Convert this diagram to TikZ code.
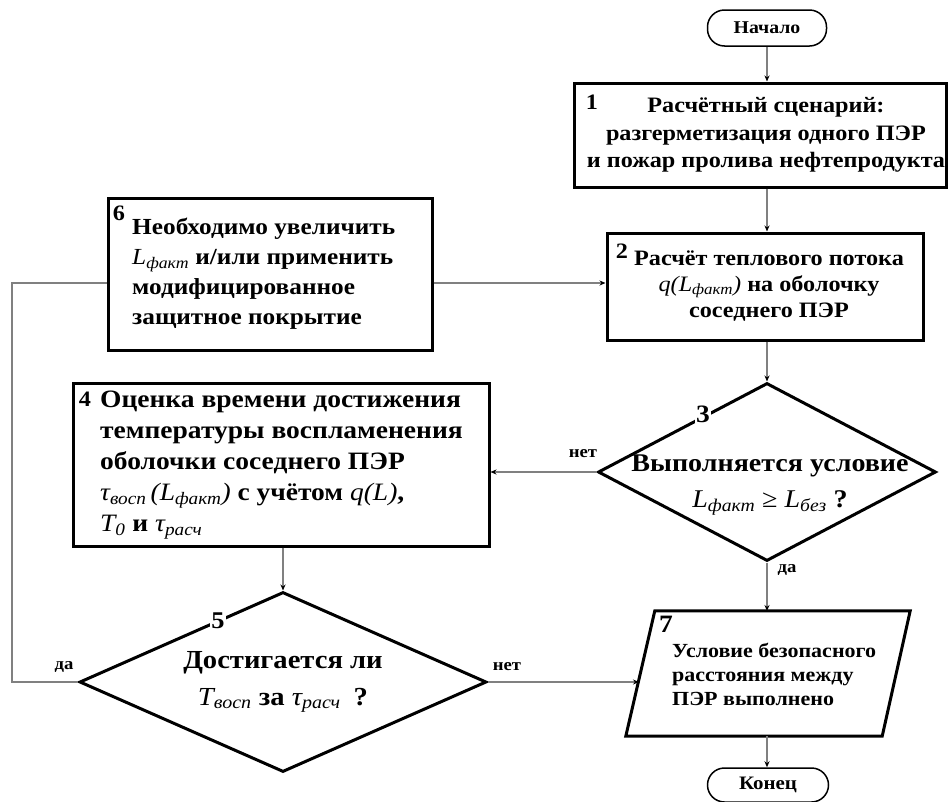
\documentclass[tikz,border=0pt]{standalone}
\usepackage{fontspec}
\setmainfont{Liberation Serif}[FakeStretch=1.1]
\usetikzlibrary{arrows.meta,shapes.geometric,calc}
\newcommand\iv[1]{{\mdseries\itshape #1}}
\newcommand\sbs[1]{\textsubscript{\mdseries\itshape #1}}
\begin{document}
\begin{tikzpicture}[x=1pt,y=-1pt,
  boxst/.style={draw=black,line width=3pt,rectangle,inner sep=0pt},
  termst/.style={draw=black,line width=1.5pt,rectangle,rounded corners=17pt,inner sep=0pt},
  diast/.style={draw=black,line width=3pt,diamond,inner sep=0pt},
  conn/.style={draw=black!50,line width=1.5pt},
  arr/.style={conn,-{Stealth[length=6pt,width=5pt,color=black]}},
  numst/.style={font=\fontsize{22}{22}\selectfont\bfseries,inner sep=1pt},
  lblst/.style={font=\fontsize{17}{17}\selectfont\bfseries,inner sep=0pt},
  txt/.style={inner sep=0pt,font=\bfseries}
]
\useasboundingbox (0,0) rectangle (948,801);
% shapes
\node[termst,minimum width=119pt,minimum height=36pt] (start) at (767,28) {};
\node[boxst,minimum width=372pt,minimum height=104pt] (b1) at (760,135) {};
\node[boxst,minimum width=316pt,minimum height=107pt] (b2) at (765,286.5) {};
\node[boxst,minimum width=324pt,minimum height=152pt] (b6) at (270,274) {};
\node[boxst,minimum width=416pt,minimum height=163pt] (b4) at (281,464.5) {};
\node[diast,minimum width=338pt,minimum height=178pt] (d3) at (767,472) {};
\node[diast,minimum width=407pt,minimum height=180pt] (d5) at (283,682) {};
\node[minimum width=284pt,minimum height=125pt,inner sep=0pt] (b7) at (768,673.5) {};
\draw[line width=3pt,line join=miter] ($(b7.north west)+(29,0)$) -- (b7.north east) -- ($(b7.south east)+(-28,0)$) -- (b7.south west) -- cycle;
\node[termst,minimum width=121pt,minimum height=34pt] (end) at (768,785) {};
% texts
\node[txt,font=\fontsize{18}{18}\selectfont\bfseries] (startt) at (start) {Начало};
\node[txt,font=\fontsize{19}{19}\selectfont\bfseries] (endt) at (end) {Конец};
\node[txt,align=center,font=\fontsize{22}{27.5}\selectfont\bfseries] (b1t) at (766,135) {Расчётный сценарий:\\разгерметизация одного ПЭР\\и пожар пролива нефтепродукта};
\node[txt,align=center,font=\fontsize{22}{26}\selectfont\bfseries] (b2t) at (769,286) {Расчёт теплового потока\\\iv{q(L}\sbs{факт}\iv{)} на оболочку\\соседнего ПЭР};
\node[txt,anchor=west,align=left,font=\fontsize{23}{30}\selectfont\bfseries] (b6t) at (132,274) {Необходимо увеличить\\\iv{L}\sbs{факт} и/или применить\\модифицированное\\защитное покрытие};
\node[txt,anchor=west,align=left,font=\fontsize{25}{31}\selectfont\bfseries] (b4t) at (100,465) {Оценка времени достижения\\температуры воспламенения\\оболочки соседнего ПЭР\\\iv{τ}\sbs{восп}\,\iv{(L}\sbs{факт}\iv{)} с учётом \iv{q(L)},\\\iv{T}\sbs{0} и \iv{τ}\sbs{расч}};
\node[txt,align=center,font=\fontsize{25.5}{36}\selectfont\bfseries] (d3t) at (770,485) {Выполняется условие\\\iv{L}\sbs{факт} {\mdseries≥} \iv{L}\sbs{без} ?};
\node[txt,align=center,font=\fontsize{26}{37}\selectfont\bfseries] (d5t) at (283,682) {Достигается ли\\\iv{T}\sbs{восп} за \iv{τ}\sbs{расч}\enspace?};
\node[txt,anchor=west,align=left,font=\fontsize{20}{24}\selectfont\bfseries] (b7t) at (672,674) {Условие безопасного\\расстояния между\\ПЭР выполнено};
% numbers
\node[numst] (n1) at (592,102) {1};
\node[numst] (n2) at (622,251) {2};
\node[numst] (n6) at (119,213) {6};
\node[numst] (n4) at (85,399) {4};
\node[numst,font=\fontsize{25}{25}\selectfont\bfseries] (n7) at (666,624) {7};
% connectors
\draw[arr] (start.south) -- (start.south |- b1.north);
\draw[arr] (b1.south -| start) -- (b2.north -| start);
\draw[arr] (b2.south -| d3) -- (d3.north);
\draw[arr] (d3.west) -- (b4.east |- d3.west);
\draw[arr] (b4.south -| d5) -- (d5.north);
\coordinate (b7top) at (767,611);
\coordinate (b7in) at (639,682);
\coordinate (b7bot) at (767,736);
\draw[arr] (d3.south) -- (b7top);
\draw[arr] (d5.east) -- (b7in);
\draw[arr] (b7bot) -- (end.north -| b7bot);
\coordinate (lft) at (12,283);
\draw[conn] (d5.west) -| (lft) -- (b6.west |- lft);
\draw[arr] (b6.east |- lft) -- (b2.west |- lft);
% numbers on diamond edges
\node[numst,fill=white,font=\fontsize{25}{25}\selectfont\bfseries] (n3) at (703,414) {3};
\node[numst,fill=white,font=\fontsize{24}{24}\selectfont\bfseries] (n5) at (218,621) {5};
% labels
\node[lblst] (l3n) at (583,454) {нет};
\node[lblst] (l3y) at (787,570) {да};
\node[lblst] (l5y) at (64,667) {да};
\node[lblst] (l5n) at (507,667) {нет};
\end{tikzpicture}
\end{document}
